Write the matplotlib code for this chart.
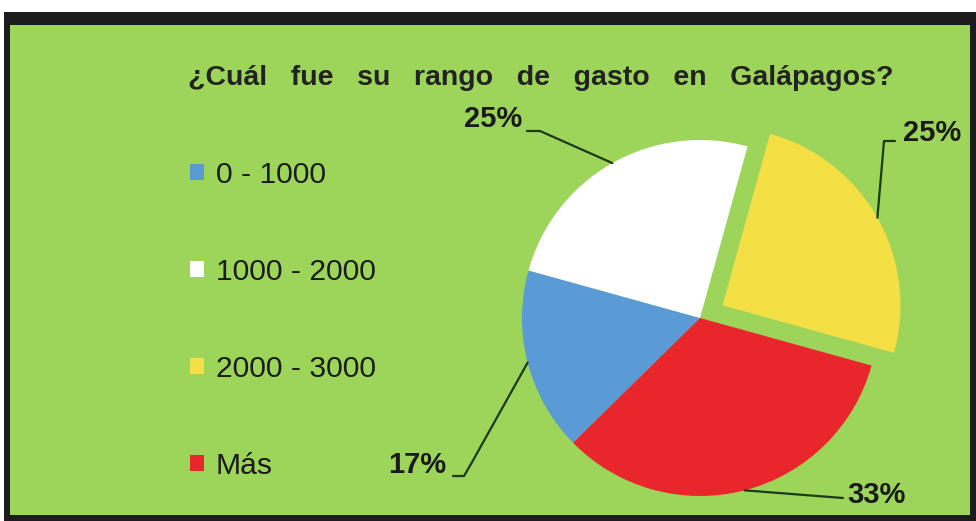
import matplotlib
matplotlib.use("Agg")
import matplotlib.pyplot as plt
from matplotlib.patches import Rectangle
import numpy as np

# ---- data ----
categories = ["0 - 1000", "1000 - 2000", "2000 - 3000", "Más"]
values = [2, 3, 3, 4]
pct_labels = ["17%", "25%", "25%", "33%"]
colors = ["#5B9BD5", "#FFFFFF", "#F4DF45", "#E8262B"]
explode = [0, 0, 0.145, 0]
title = "¿Cuál   fue   su   rango   de   gasto   en   Galápagos?"

W, H = 976, 521
fig = plt.figure(figsize=(W / 100, H / 100), dpi=100)
fig.patch.set_facecolor("white")
plt.rcParams['font.family'] = ['Liberation Sans', 'DejaVu Sans']

def fx(px):
    return px / W

def fy(py):
    return 1 - py / H

# frame and green panel
fig.add_artist(Rectangle((fx(4), fy(521)), fx(976) - fx(4), fy(12) - fy(521),
                         transform=fig.transFigure, facecolor="#1c1c1c", edgecolor="none", zorder=0))
fig.add_artist(Rectangle((fx(10), fy(515)), fx(970) - fx(10), fy(25) - fy(515),
                         transform=fig.transFigure, facecolor="#9DD45A", edgecolor="none", zorder=0))

# pie axes: centre (700, 318) px, radius 178 px
cx, cy, R = 700, 318, 178
k = 1.6
S = 2 * R * k
ax = fig.add_axes([fx(cx - S / 2), fy(cy + S / 2), S / W, S / H])
ax.patch.set_alpha(0)

start = 90 - 225.5
wedges, _ = ax.pie(values, colors=colors, explode=explode, startangle=start,
                   counterclock=False, radius=1.0,
                   wedgeprops=dict(linewidth=0))
ax.set_xlim(-k, k)
ax.set_ylim(-k, k)
ax.set_aspect("equal")
ax.axis("off")

def d(px, py):
    return ((px - cx) / R, (cy - py) / R)

# label text positions (pixel layout) and leader elbows
label_layout = [
    ((446, 465), "right", [(453, 476), (464, 476), (471, 464)]),
    ((522, 119), "right", [(527, 131), (540, 131)]),
    ((903, 133), "left", [(895, 141), (884, 141)]),
    ((847, 495), "left", [(843, 498)]),
]

for w, lab, (tpos, ha, elbows) in zip(wedges, pct_labels, label_layout):
    mid = np.deg2rad((w.theta1 + w.theta2) / 2)
    cxw, cyw = w.center
    ax_pt = (cxw + w.r * np.cos(mid), cyw + w.r * np.sin(mid))
    tx, ty = d(*tpos)
    ax.text(tx, ty, lab, ha=ha, va="center", fontsize=21, fontweight="bold",
            color="#1a1a1a", clip_on=False)
    pts = [d(*p) for p in elbows] + [ax_pt]
    xs, ys = zip(*pts)
    ax.plot(xs, ys, color="#1a3a1a", lw=1.6, clip_on=False, solid_capstyle="round")

# title
fig.text(fx(188), fy(78), title, ha="left", va="center", fontsize=20.5,
         fontweight="bold", color="#222222")

# legend
leg = fig.legend(wedges, categories, loc="upper left",
                 bbox_to_anchor=(fx(175), fy(146)), frameon=False,
                 fontsize=21.6, handlelength=0.45, handleheight=0.45,
                 handletextpad=0.4, labelspacing=2.3, borderpad=0)
for t in leg.get_texts():
    t.set_color("#1a1a1a")
for h in leg.legend_handles:
    h.set_edgecolor("none")

fig.savefig("out.png", dpi=100, facecolor=fig.get_facecolor())
